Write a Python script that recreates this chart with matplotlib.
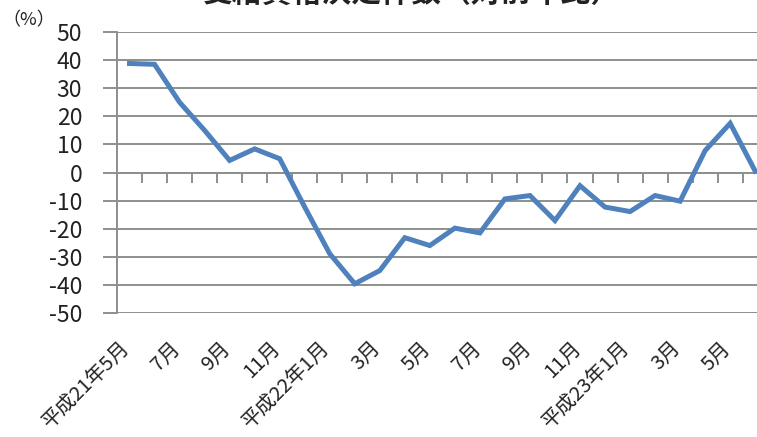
import matplotlib
matplotlib.use("Agg")
import matplotlib.pyplot as plt
from matplotlib.transforms import blended_transform_factory

plt.rcParams['font.family'] = ['Noto Sans CJK JP', 'DejaVu Sans']

title = "受給資格決定件数（対前年比）"
unit_label = "（%）"
months = ["平成21年5月", "6月", "7月", "8月", "9月", "10月", "11月", "12月",
          "平成22年1月", "2月", "3月", "4月", "5月", "6月", "7月", "8月",
          "9月", "10月", "11月", "12月", "平成23年1月", "2月", "3月", "4月",
          "5月", "6月"]
values = [38.8, 38.5, 25.0, 15.0, 4.3, 8.4, 4.9, -12.3,
          -28.9, -39.6, -34.9, -23.2, -26.0, -19.8, -21.5, -9.4,
          -8.2, -17.1, -4.7, -12.3, -13.9, -8.2, -10.2, 7.8,
          17.5, 0.5]
y_ticks = [50, 40, 30, 20, 10, 0, -10, -20, -30, -40, -50]

W, H = 757, 437
fig = plt.figure(figsize=(W / 100, H / 100), dpi=100)
left, right, top, bottom = 117, 767.7, 32, 313
ax = fig.add_axes([left / W, 1 - bottom / H, (right - left) / W, (bottom - top) / H])

n = len(values)
xs = list(range(n))
ax.plot(xs, values, color='#4f81bd', linewidth=3.6, solid_joinstyle='miter', clip_on=False, zorder=5)

ax.set_xlim(-0.5, n - 0.5)
ax.set_ylim(-50, 50)

grid_color = '#8c918c'
ax.set_yticks(y_ticks)
ax.set_yticklabels([str(v) for v in y_ticks])
ax.yaxis.grid(True, color=grid_color, linewidth=1.4)
ax.set_axisbelow(True)
ax.tick_params(axis='y', length=10, width=1.4, color=grid_color, pad=15,
               labelsize=16.5, labelcolor='#222222')

for s in ['top', 'right']:
    ax.spines[s].set_visible(False)
ax.spines['left'].set_color(grid_color)
ax.spines['left'].set_linewidth(1.4)
ax.spines['bottom'].set_position(('data', 0))
ax.spines['bottom'].set_color(grid_color)
ax.spines['bottom'].set_linewidth(1.4)

ax.set_xticks([k - 0.5 for k in range(1, n + 1)])
ax.set_xticklabels([])
ax.tick_params(axis='x', direction='out', length=7, width=1.4, color=grid_color)

trans = blended_transform_factory(ax.transData, fig.transFigure)
for i, lab in enumerate(months):
    if i % 2 == 0:
        ax.text(i - 0.1, 1 - 345 / H, lab, transform=trans, rotation=45,
                rotation_mode='anchor', ha='right', va='center',
                fontsize=14.5, color='#222222')

fig.text(412 / W, 1 - 9 / H, title, ha='center', va='bottom',
         fontsize=21.5, fontweight='bold', color='#222222')
fig.text(29 / W, 1 - 20 / H, unit_label, ha='center', va='center',
         fontsize=13, color='#222222')

fig.savefig("out.png", dpi=100)
